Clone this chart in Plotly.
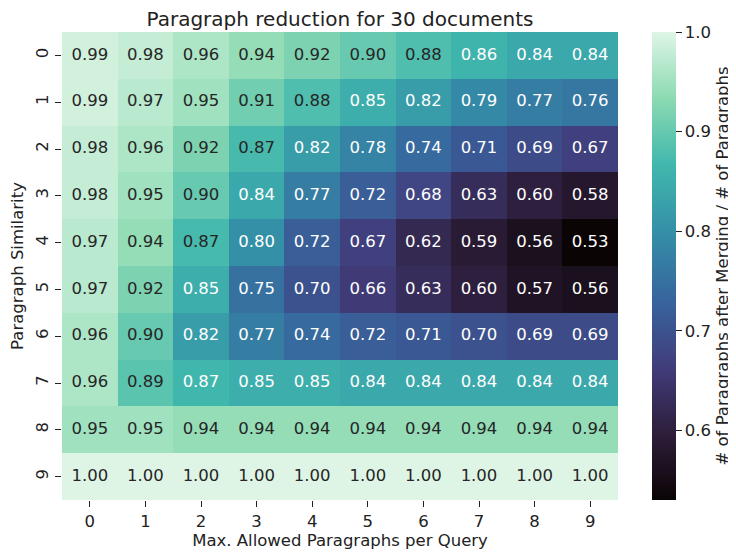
import plotly.graph_objects as go

cols = [0, 1, 2, 3, 4, 5, 6, 7, 8, 9]
rows = [0, 1, 2, 3, 4, 5, 6, 7, 8, 9]
r0 = [0.99, 0.98, 0.96, 0.94, 0.92, 0.90, 0.88, 0.86, 0.84, 0.84]
r1 = [0.99, 0.97, 0.95, 0.91, 0.88, 0.85, 0.82, 0.79, 0.77, 0.76]
r2 = [0.98, 0.96, 0.92, 0.872, 0.82, 0.78, 0.74, 0.71, 0.69, 0.67]
r3 = [0.98, 0.95, 0.90, 0.84, 0.77, 0.72, 0.68, 0.63, 0.60, 0.58]
r4 = [0.97, 0.94, 0.871, 0.80, 0.72, 0.67, 0.62, 0.59, 0.56, 0.53]
r5 = [0.97, 0.92, 0.85, 0.75, 0.70, 0.66, 0.63, 0.60, 0.57, 0.56]
r6 = [0.96, 0.90, 0.82, 0.77, 0.74, 0.72, 0.71, 0.70, 0.69, 0.69]
r7 = [0.96, 0.89, 0.866, 0.85, 0.85, 0.84, 0.84, 0.84, 0.84, 0.84]
r8 = [0.95, 0.95, 0.94, 0.94, 0.94, 0.94, 0.94, 0.94, 0.94, 0.94]
r9 = [1.00, 1.00, 1.00, 1.00, 1.00, 1.00, 1.00, 1.00, 1.00, 1.00]
z = [r0, r1, r2, r3, r4, r5, r6, r7, r8, r9]

mako = [
    [0.0, "#0b0405"],
    [1 / 7, "#2e1e3b"],
    [2 / 7, "#413d7b"],
    [3 / 7, "#37659e"],
    [4 / 7, "#348fa7"],
    [5 / 7, "#40b7ad"],
    [6 / 7, "#8bdab2"],
    [1.0, "#def5e5"],
]

FONT = "DejaVu Sans"
FS = 16.5
zmin, zmax = 0.53, 1.0
W, H = 728, 548

fig = go.Figure()
fig.add_trace(go.Heatmap(
    z=z, x=cols, y=rows, colorscale=mako, zmin=zmin, zmax=zmax,
    xgap=0, ygap=0, hoverinfo="skip",
    colorbar=dict(
        x=1.061, xanchor="left", xref="paper", xpad=0, ypad=0,
        y=0, yanchor="bottom", len=1,
        thickness=24, outlinewidth=0, ticks="outside", ticklen=6, tickwidth=1.3,
        tickcolor="#222", tickvals=[0.6, 0.7, 0.8, 0.9, 1.0], tickformat=".1f",
        tickfont=dict(size=FS, family=FONT, color="#222"),
        title=dict(text="# of Paragraphs after Merging / # of Paragraphs", side="right",
                   font=dict(size=FS, family=FONT, color="#222")),
    ),
))

xs, ys, txt, colors = [], [], [], []
for i, row in enumerate(z):
    for j, v in enumerate(row):
        xs.append(cols[j]); ys.append(rows[i])
        txt.append(f"{v:.2f}")
        colors.append("#262626" if v >= 0.87 else "white")
fig.add_trace(go.Scatter(
    x=xs, y=ys, mode="text", text=txt, hoverinfo="skip",
    textfont=dict(size=FS, family=FONT, color=colors), showlegend=False,
))

fig.update_layout(
    width=W, height=H,
    margin=dict(l=54, r=118, t=24, b=56, autoexpand=False),
    paper_bgcolor="white", plot_bgcolor="white",
    font=dict(family=FONT, color="#222"),
    title=dict(text="Paragraph reduction for 30 documents", x=0.5, xref="paper",
               y=1 - 10.5 / H, yanchor="middle", font=dict(size=20, family=FONT, color="#222")),
    xaxis=dict(range=[-0.5, 9.5], tickvals=cols, ticks="outside", ticklen=6, tickwidth=1.3,
               tickcolor="#222", showgrid=False, zeroline=False, showline=False,
               tickfont=dict(size=FS, family=FONT),
               title=dict(text="Max. Allowed Paragraphs per Query", font=dict(size=FS, family=FONT), standoff=4)),
    yaxis=dict(range=[9.5, -0.5], tickvals=rows, ticks="outside", ticklen=6, tickwidth=1.3,
               tickcolor="#222", showgrid=False, zeroline=False, showline=False, tickangle=-90,
               tickfont=dict(size=FS, family=FONT),
               title=dict(text="Paragraph Similarity", font=dict(size=FS, family=FONT), standoff=6)),
)

fig.write_html("out.html")
